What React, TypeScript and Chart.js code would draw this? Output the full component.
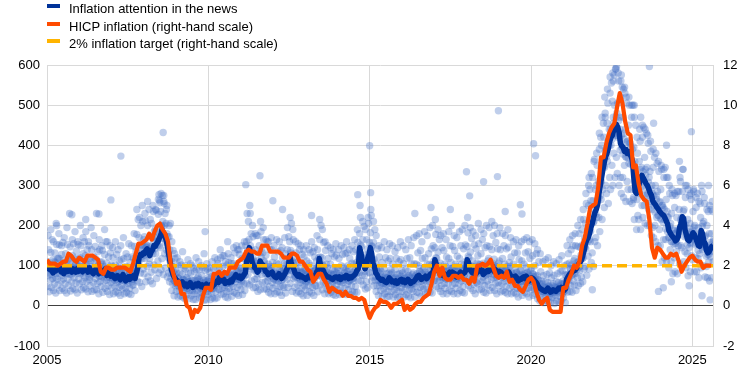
import React, { useEffect, useRef } from "react";
import { Chart, registerables } from "chart.js";

Chart.register(...registerables);

// ---------- DATA ----------
const START_YEAR = 2005;
const X_MAX = 2025.64;
const xTickYears = [2005, 2010, 2015, 2020, 2025];
const inflationTarget = 2;

// Euro area HICP inflation, monthly, Jan 2005 – Aug 2025 (right-hand scale, %)
const hicp: number[] = [
  2.3, 2.1, 2.1, 2.1, 2.0, 2.1, 2.2, 2.2, 2.6, 2.5, 2.3, 2.2,
  2.4, 2.3, 2.2, 2.5, 2.5, 2.5, 2.4, 2.3, 1.7, 1.6, 1.9, 1.9,
  1.8, 1.8, 1.9, 1.9, 1.9, 1.9, 1.8, 1.7, 2.1, 2.6, 3.1, 3.1,
  3.2, 3.3, 3.6, 3.3, 3.7, 4.0, 4.1, 3.8, 3.6, 3.2, 2.1, 1.6,
  1.1, 1.2, 0.6, 0.6, 0.0, -0.1, -0.6, -0.2, -0.3, -0.1, 0.5, 0.9,
  0.9, 0.8, 1.6, 1.6, 1.7, 1.5, 1.7, 1.6, 1.9, 1.9, 1.9, 2.2,
  2.3, 2.4, 2.7, 2.8, 2.7, 2.7, 2.6, 2.6, 3.0, 3.0, 3.0, 2.7,
  2.7, 2.7, 2.7, 2.6, 2.4, 2.4, 2.4, 2.6, 2.6, 2.5, 2.2, 2.2,
  2.0, 1.8, 1.7, 1.2, 1.4, 1.6, 1.6, 1.3, 1.1, 0.7, 0.9, 0.8,
  0.7, 0.7, 0.5, 0.7, 0.5, 0.5, 0.4, 0.4, 0.3, 0.4, 0.3, -0.2,
  -0.6, -0.3, -0.1, 0.0, 0.3, 0.2, 0.2, 0.1, -0.1, 0.1, 0.1, 0.2,
  0.3, -0.2, 0.0, -0.2, -0.1, 0.1, 0.2, 0.2, 0.4, 0.5, 0.6, 1.1,
  1.7, 2.0, 1.5, 1.9, 1.4, 1.3, 1.3, 1.5, 1.5, 1.4, 1.5, 1.3,
  1.3, 1.1, 1.4, 1.2, 2.0, 2.0, 2.1, 2.0, 2.1, 2.3, 1.9, 1.5,
  1.4, 1.5, 1.4, 1.7, 1.2, 1.3, 1.0, 1.0, 0.8, 0.7, 1.0, 1.3,
  1.4, 1.2, 0.7, 0.3, 0.1, 0.3, 0.4, -0.2, -0.3, -0.3, -0.3, -0.3,
  0.9, 0.9, 1.3, 1.6, 2.0, 1.9, 2.2, 3.0, 3.4, 4.1, 4.9, 5.0,
  5.1, 5.9, 7.4, 7.4, 8.1, 8.6, 8.9, 9.1, 9.9, 10.6, 10.1, 9.2,
  8.6, 8.5, 6.9, 7.0, 6.1, 5.5, 5.3, 5.2, 4.3, 2.9, 2.4, 2.9,
  2.8, 2.6, 2.4, 2.4, 2.6, 2.5, 2.6, 2.2, 1.7, 2.0, 2.2, 2.4,
  2.5, 2.3, 2.2, 2.2, 1.9, 2.0, 2.0, 2.0,
];

// Inflation attention in the news, smoothed, twice a month (left-hand scale)
const attentionSmooth: number[] = [
  86, 92, 95, 88, 82, 90, 87, 94, 98, 90, 85, 92, 80, 88, 92, 86, 96, 88, 84, 92, 88, 84, 93, 86,
  94, 88, 85, 92, 97, 90, 84, 95, 88, 84, 80, 88, 92, 85, 80, 86, 88, 82, 84, 92, 76, 82, 80, 74,
  78, 72, 68, 74, 75, 70, 65, 70, 78, 70, 62, 68, 72, 66, 74, 70, 76, 68, 82, 95, 120, 128, 126, 132,
  130, 138, 142, 136, 125, 135, 140, 150, 148, 155, 160, 168, 175, 190, 182, 178, 165, 150, 130, 110, 90, 80, 72, 68,
  64, 60, 56, 54, 60, 56, 50, 54, 48, 52, 58, 52, 46, 50, 54, 50, 56, 52, 48, 52, 46, 50, 54, 50,
  48, 52, 46, 50, 54, 58, 62, 58, 75, 68, 62, 66, 56, 60, 60, 58, 64, 60, 68, 72, 78, 72, 70, 74,
  68, 72, 78, 82, 110, 130, 145, 130, 110, 100, 95, 92, 84, 88, 112, 105, 102, 96, 86, 84, 78, 80, 82, 84,
  76, 72, 70, 74, 80, 76, 68, 72, 78, 84, 92, 98, 125, 110, 98, 92, 82, 78, 74, 78, 72, 74, 70, 70,
  66, 70, 74, 70, 76, 74, 68, 72, 84, 88, 118, 100, 92, 88, 80, 76, 72, 72, 70, 68, 66, 70, 72, 72,
  68, 72, 66, 70, 72, 70, 76, 74, 68, 72, 70, 74, 76, 80, 88, 92, 145, 132, 110, 105, 92, 98, 118, 128,
  145, 130, 105, 98, 82, 78, 70, 68, 64, 66, 62, 60, 58, 62, 70, 66, 60, 62, 58, 62, 56, 60, 64, 66,
  60, 64, 58, 62, 66, 62, 56, 60, 60, 64, 68, 74, 76, 72, 66, 70, 70, 74, 68, 72, 76, 80, 82, 88,
  115, 104, 90, 86, 78, 82, 76, 80, 72, 78, 78, 84, 80, 84, 76, 80, 72, 78, 76, 84, 78, 80, 82, 88,
  115, 108, 90, 86, 82, 88, 78, 82, 92, 98, 86, 90, 78, 82, 84, 88, 86, 94, 92, 98, 86, 90, 78, 82,
  86, 84, 80, 78, 74, 80, 82, 84, 76, 74, 68, 72, 74, 70, 62, 66, 66, 70, 72, 68, 74, 70, 62, 66,
  70, 68, 64, 60, 55, 48, 44, 42, 40, 38, 36, 40, 44, 40, 34, 36, 40, 38, 36, 40, 44, 42, 46, 44,
  38, 42, 66, 72, 78, 82, 84, 88, 88, 92, 98, 104, 108, 114, 125, 138, 155, 165, 170, 180, 195, 205, 220, 232,
  240, 252, 280, 300, 320, 340, 358, 372, 380, 392, 410, 420, 425, 438, 440, 452, 445, 432, 405, 398, 395, 385, 390, 380,
  385, 378, 372, 360, 318, 285, 280, 295, 305, 315, 325, 318, 312, 305, 300, 292, 282, 276, 262, 256, 252, 246, 242, 236,
  232, 228, 226, 220, 212, 205, 188, 182, 176, 172, 168, 162, 165, 172, 195, 205, 222, 218, 190, 178, 165, 162, 168, 175,
  182, 178, 168, 160, 150, 148, 188, 180, 162, 155, 138, 132, 135, 142, 148, 150,
];

// Daily readings (six per month), one row per year
const dailyAttention: number[][] = [
  [48,110,75,140,35,92, 101,64,133,46,87,165, 68,115,38,98,55,132, 108,32,81,153,67,117, 52,119,81,152,38,100, 97,62,128,44,84,158, 67,113,38,97,55,130, 108,32,81,153,67,117, 51,115,78,147,37,97, 95,60,125,43,82,155, 70,119,40,101,57,136, 108,32,81,153,67,117],
  [55,120,80,150,40,98, 96,60,130,45,85,160, 70,125,42,105,60,140, 110,35,80,150,65,118, 50,112,76,140,36,92, 92,58,122,40,80,148, 68,116,40,98,56,135, 100,30,74,140,60,108, 48,110,72,138,34,90, 98,62,128,44,86,160, 64,106,36,90,50,122, 95,28,70,132,58,102],
  [45,98,64,120,30,80, 78,48,102,35,66,128, 58,96,32,82,46,112, 84,26,62,115,50,90, 42,96,64,118,30,80, 72,45,98,34,62,122, 56,94,30,80,44,108, 88,28,66,122,52,95, 52,118,80,148,38,100, 135,85,178,62,118,215, 100,170,58,145,82,200, 152,48,118,210,92,165],
  [80,172,118,212,60,145, 152,98,200,72,132,240, 104,172,62,148,84,205, 170,55,130,235,102,185, 90,190,130,238,68,160, 172,112,228,82,150,262, 145,235,90,200,118,275, 210,78,168,255,130,230, 95,205,140,250,72,172, 130,82,172,60,112,205, 68,112,38,98,55,138, 84,25,62,118,50,92],
  [36,82,52,102,22,68, 60,38,82,25,52,102, 46,78,22,66,36,95, 64,18,48,92,38,70, 28,66,44,82,18,55, 60,38,82,25,50,100, 38,64,16,55,30,85, 64,16,48,90,38,68, 30,72,48,90,20,60, 55,34,76,22,46,95, 38,64,14,56,30,88, 62,15,48,92,36,70],
  [28,66,44,84,16,55, 52,32,74,20,45,92, 44,74,18,64,35,96, 72,20,55,105,42,80, 40,96,62,120,28,78, 70,44,98,30,62,125, 46,78,22,66,36,102, 72,20,56,108,44,80, 36,82,54,105,24,68, 76,48,105,34,66,132, 60,100,30,86,46,140, 88,26,66,128,52,96],
  [40,92,60,118,28,76, 88,55,118,38,76,150, 96,160,55,138,78,210, 165,52,125,230,98,180, 62,138,92,172,45,112, 102,66,140,46,90,175, 68,112,36,98,54,150, 132,40,100,185,78,142, 58,132,88,165,42,108, 92,60,126,42,80,160, 62,104,34,90,48,140, 98,30,74,140,58,108],
  [44,98,66,122,30,80, 78,50,106,35,68,135, 62,104,34,90,48,138, 85,26,64,120,50,92, 46,105,70,130,32,86, 104,66,140,46,90,172, 96,160,56,138,78,205, 112,36,86,165,68,122, 46,106,70,132,32,86, 82,52,110,36,70,140, 58,96,30,84,44,128, 85,25,64,122,50,92],
  [40,88,58,112,26,74, 78,50,106,35,68,132, 60,100,32,86,46,135, 85,26,64,122,50,92, 50,112,75,140,35,92, 120,76,165,52,104,200, 72,120,40,104,58,158, 95,30,72,138,56,104, 42,95,64,118,30,78, 76,48,104,34,66,130, 54,90,28,78,42,122, 88,26,66,126,52,95],
  [40,92,62,118,28,76, 74,46,100,32,64,128, 58,96,30,84,44,130, 90,28,70,132,54,100, 40,92,62,118,28,76, 78,50,106,35,68,135, 62,104,34,90,48,140, 108,34,82,158,64,118, 82,180,122,220,62,148, 120,76,165,52,104,198, 76,126,42,110,60,165, 142,45,110,205,84,158],
  [82,182,122,225,62,148, 115,72,158,50,98,190, 64,106,36,92,50,142, 85,26,64,122,50,92, 38,86,56,108,24,70, 68,42,92,30,58,120, 48,80,22,70,36,112, 82,24,62,118,48,90, 36,82,54,104,22,68, 66,40,90,28,56,118, 46,78,20,66,36,110, 80,22,60,115,46,88],
  [36,82,54,105,22,68, 66,40,90,28,56,118, 52,86,24,74,40,120, 70,20,54,104,42,78, 36,82,54,105,22,68, 76,48,104,34,66,132, 60,100,32,86,46,138, 82,24,62,118,48,90, 42,95,64,120,30,78, 76,48,104,34,66,130, 62,104,34,90,48,142, 102,32,78,150,62,112],
  [64,145,96,178,48,118, 98,62,134,44,86,165, 64,106,36,92,50,145, 95,30,72,138,56,104, 44,98,66,122,30,80, 88,55,118,38,76,150, 66,108,36,94,52,148, 95,30,72,138,56,104, 44,98,66,124,30,80, 88,55,118,38,76,150, 62,104,34,90,48,142, 102,32,78,152,62,112],
  [66,148,98,182,50,120, 98,62,134,44,86,168, 68,112,38,98,54,152, 96,30,74,142,58,106, 55,125,84,155,40,102, 96,60,130,42,84,165, 64,106,34,92,50,145, 102,32,78,150,62,112, 52,118,80,148,38,96, 104,66,140,46,90,175, 70,116,38,100,56,158, 96,30,74,142,58,106],
  [50,112,75,140,35,92, 88,55,118,38,76,150, 62,104,34,90,48,142, 98,30,76,146,60,108, 44,98,66,122,30,80, 76,48,104,34,66,132, 58,96,30,84,44,132, 78,22,60,115,46,88, 40,88,60,112,26,74, 76,48,104,34,66,132, 58,96,30,84,44,135, 78,22,60,118,46,88],
  [40,95,60,125,26,78, 72,44,100,30,62,130, 44,76,18,66,34,110, 55,12,42,85,30,62, 20,55,36,75,8,46, 42,26,60,14,36,78, 32,58,10,48,24,82, 44,8,32,70,22,50, 20,55,35,76,6,46, 42,26,60,12,36,80, 32,58,10,48,24,85, 55,12,42,88,30,62],
  [20,56,36,78,8,46, 76,48,104,34,66,130, 64,106,36,92,50,140, 102,34,78,150,62,112, 52,118,80,150,38,98, 108,70,148,50,96,180, 88,146,56,126,72,190, 152,60,120,215,92,168, 98,205,142,255,76,172, 188,124,250,92,165,290, 160,262,108,228,132,320, 262,98,210,365,160,290],
  [170,300,220,350,150,262, 310,220,390,185,275,420, 265,400,215,360,290,455, 420,245,345,480,300,390, 280,455,360,505,255,410, 440,320,530,290,400,555, 350,510,300,470,380,575, 500,320,425,590,370,480, 330,505,420,560,300,470, 440,320,520,280,395,545, 320,470,270,430,350,530, 440,260,370,505,310,410],
  [290,450,355,500,260,405, 395,290,470,255,355,500, 265,395,215,360,290,450, 325,190,265,380,225,300, 215,360,280,410,190,320, 345,250,420,220,310,445, 250,370,205,340,275,430, 345,200,280,405,240,320, 200,335,260,385,175,300, 280,195,345,170,250,370, 200,300,160,275,220,355, 285,150,225,335,190,260],
  [150,290,215,340,110,250, 245,165,320,120,215,345, 165,265,110,235,185,320, 220,95,170,280,140,205, 110,230,160,275,80,190, 180,120,245,85,155,275, 135,220,80,190,150,285, 240,105,185,310,150,220, 145,285,205,340,110,240, 200,135,270,95,175,300, 130,215,75,185,145,275, 205,85,155,265,125,190],
  [115,235,165,285,85,200, 180,120,245,85,155,280, 118,195,70,168,130,255, 220,95,170,285,140,205, 100,210,148,255,72,175, 148,98,200,70,128,235, 110,180,62,158,122,240, 180,70,138,235,110,165],
];

// Extra daily readings near the centre of the cloud, two per month
const dailyCore: number[] = [
  82, 104, 96, 78, 90, 110, 72, 98, 88, 118, 94, 76, 84, 102, 92, 80, 96, 112, 78, 94, 90, 106, 86, 98,
  100, 84, 92, 76, 104, 90, 88, 72, 84, 98, 92, 110, 80, 96, 86, 74, 92, 104, 78, 90, 70, 86, 74, 94,
  70, 86, 64, 80, 76, 62, 72, 84, 66, 78, 60, 74, 68, 82, 70, 60, 66, 80, 86, 100, 110, 140, 122, 150,
  126, 148, 150, 128, 118, 144, 136, 160, 142, 170, 152, 182, 168, 198, 176, 200, 158, 180, 120, 140, 82, 98, 64, 78,
  56, 70, 48, 62, 52, 66, 46, 58, 44, 60, 50, 64, 42, 56, 48, 62, 50, 66, 44, 58, 42, 58, 48, 62,
  44, 60, 42, 56, 50, 64, 56, 72, 66, 82, 58, 74, 52, 70, 56, 72, 58, 76, 64, 80, 68, 86, 66, 82,
  64, 80, 72, 90, 104, 130, 128, 150, 98, 118, 88, 106, 80, 96, 100, 122, 94, 112, 80, 98, 72, 88, 76, 92,
  68, 84, 64, 80, 72, 90, 64, 80, 74, 92, 86, 104, 110, 132, 88, 106, 74, 92, 70, 86, 66, 82, 64, 80,
  60, 78, 66, 84, 64, 80, 70, 88, 78, 96, 100, 122, 82, 100, 72, 88, 66, 82, 64, 80, 60, 78, 64, 82,
  62, 80, 60, 76, 64, 82, 68, 86, 62, 78, 66, 84, 70, 88, 82, 100, 130, 152, 100, 120, 86, 106, 108, 130,
  128, 150, 96, 116, 74, 90, 64, 80, 58, 74, 56, 72, 54, 70, 62, 78, 56, 72, 54, 70, 52, 68, 58, 74,
  56, 72, 54, 70, 58, 76, 52, 68, 56, 72, 62, 80, 68, 86, 62, 78, 66, 84, 62, 78, 70, 88, 78, 96,
  100, 120, 82, 100, 72, 90, 70, 88, 68, 86, 72, 90, 74, 92, 70, 88, 68, 86, 72, 90, 70, 88, 76, 96,
  102, 124, 82, 100, 76, 94, 72, 90, 86, 104, 80, 98, 72, 90, 76, 94, 80, 100, 86, 106, 78, 98, 72, 90,
  76, 94, 72, 90, 70, 88, 74, 92, 68, 84, 62, 80, 64, 82, 58, 74, 60, 78, 62, 80, 64, 82, 58, 74,
  62, 80, 58, 74, 50, 64, 40, 54, 36, 48, 34, 46, 38, 50, 32, 44, 36, 48, 34, 46, 38, 50, 40, 54,
  36, 48, 62, 78, 72, 90, 76, 94, 80, 100, 90, 110, 98, 120, 118, 142, 146, 172, 160, 188, 186, 214, 208, 240,
  228, 262, 268, 305, 310, 350, 348, 385, 372, 410, 400, 440, 415, 455, 430, 470, 425, 462, 388, 425, 378, 415, 372, 408,
  368, 404, 352, 390, 270, 310, 286, 320, 306, 340, 298, 334, 290, 326, 274, 308, 256, 290, 240, 274, 234, 266, 226, 258,
  218, 250, 208, 240, 192, 222, 170, 198, 160, 188, 154, 180, 160, 186, 186, 214, 204, 236, 172, 200, 152, 178, 158, 184,
  168, 196, 152, 178, 138, 162, 170, 198, 146, 172, 124, 146, 128, 152, 136, 160,
];

// Upper-tail daily readings, one per month
const dailyHighs: number[] = [
  175, 190, 160, 205, 180, 150, 170, 195, 230, 165, 185, 160,
  200, 170, 185, 160, 195, 175, 230, 165, 150, 190, 160, 150,
  145, 160, 140, 150, 170, 130, 155, 150, 180, 240, 220, 250,
  230, 260, 215, 250, 240, 265, 280, 275, 240, 200, 160, 130,
  120, 110, 135, 100, 115, 105, 95, 120, 110, 100, 130, 105,
  95, 110, 120, 115, 140, 125, 110, 130, 120, 145, 150, 140,
  150, 160, 230, 250, 200, 180, 175, 210, 195, 165, 160, 170,
  150, 165, 160, 145, 170, 195, 220, 190, 160, 155, 150, 140,
  150, 140, 160, 145, 175, 215, 190, 160, 150, 145, 140, 155,
  140, 150, 145, 160, 140, 150, 165, 190, 250, 210, 190, 220,
  240, 210, 175, 150, 145, 160, 140, 155, 150, 135, 145, 160,
  150, 140, 165, 150, 170, 175, 180, 160, 185, 175, 195, 200,
  215, 190, 175, 180, 165, 185, 200, 175, 170, 185, 190, 200,
  220, 195, 185, 175, 205, 190, 180, 200, 195, 210, 200, 180,
  195, 180, 175, 190, 170, 160, 165, 150, 160, 165, 170, 160,
  165, 155, 140, 130, 110, 115, 120, 100, 110, 105, 115, 125,
  100, 150, 165, 175, 180, 200, 215, 240, 280, 300, 330, 360,
  380, 430, 470, 520, 540, 570, 580, 590, 580, 560, 540, 520,
  520, 500, 470, 420, 440, 450, 440, 425, 410, 390, 380, 360,
  350, 340, 320, 300, 290, 280, 285, 320, 340, 300, 290, 280,
  290, 270, 260, 300, 270, 240, 250, 260,
];

// Isolated daily readings [year, value]
const dailyOutliers: [number, number][] = [
  [2005.3, 200], [2005.77, 227], [2006.2, 215], [2006.61, 229], [2006.98, 264],
  [2007.29, 373], [2008.47, 277], [2008.5, 257], [2008.6, 432], [2008.62, 260],
  [2009.9, 185], [2010.6, 160], [2011.16, 302], [2011.6, 324], [2012.0, 262],
  [2012.3, 240], [2013.2, 225], [2014.63, 277], [2015.0, 399], [2015.03, 282],
  [2016.4, 230], [2016.9, 245], [2017.5, 240], [2018.0, 334], [2018.1, 274],
  [2018.53, 309], [2018.96, 322], [2018.99, 486], [2019.2, 235], [2019.67, 252],
  [2019.72, 229], [2020.08, 404], [2020.14, 374], [2021.8, 320], [2021.9, 40],
  [2022.3, 470], [2022.55, 560], [2022.65, 596], [2022.8, 575], [2022.9, 545],
  [2023.2, 500], [2023.4, 470], [2023.67, 596], [2023.8, 455], [2023.95, 36],
  [2024.1, 45], [2024.2, 400], [2024.35, 60], [2024.6, 360], [2024.9, 50],
  [2024.97, 434], [2025.3, 25], [2025.5, 300], [2025.55, 15],
];

// ---------- COLOURS / STYLE ----------
const DARK_BLUE = "#003299";
const ORANGE = "#FF4B00";
const YELLOW = "#FFB400";
const DOT = "rgba(68, 110, 196, 0.34)";
const GRID = "#d9d9d9";
const FONT = "'Liberation Sans', Arial, sans-serif";

const monthX = (m: number, frac: number) => START_YEAR + (m + frac) / 12;

export default function App() {
  const canvasRef = useRef<HTMLCanvasElement | null>(null);

  useEffect(() => {
    document.body.style.margin = "0";
    const canvas = canvasRef.current;
    if (!canvas) return;

    const dailyPoints: { x: number; y: number }[] = [];
    dailyAttention.forEach((row, yi) => {
      row.forEach((v, j) => {
        const m = yi * 12 + Math.floor(j / 6);
        const k = j % 6;
        dailyPoints.push({ x: monthX(m, (k + 0.5) / 6), y: v });
      });
    });
    dailyCore.forEach((v, i) => dailyPoints.push({ x: START_YEAR + (i + 0.3) / 24, y: v }));
    dailyHighs.forEach((v, i) => dailyPoints.push({ x: monthX(i, 0.42), y: v }));
    dailyOutliers.forEach(([x, y]) => dailyPoints.push({ x, y }));

    const smoothPoints = attentionSmooth.map((v, i) => ({ x: START_YEAR + (i + 0.5) / 24, y: v }));
    const hicpPoints = hicp.map((v, i) => ({ x: monthX(i, 0), y: v }));
    const targetPoints = [
      { x: START_YEAR, y: inflationTarget },
      { x: X_MAX, y: inflationTarget },
    ];

    const tickFont = { family: FONT, size: 13 };

    const chart = new Chart(canvas, {
      type: "scatter",
      data: {
        datasets: [
          {
            label: "daily",
            data: dailyPoints,
            yAxisID: "y",
            pointRadius: 3.7,
            pointBackgroundColor: DOT,
            pointBorderWidth: 0,
            showLine: false,
            order: 4,
          },
          {
            label: "Inflation attention in the news",
            data: smoothPoints,
            yAxisID: "y",
            showLine: true,
            borderColor: DARK_BLUE,
            borderWidth: 5.5,
            pointRadius: 0,
            tension: 0,
            borderJoinStyle: "round",
            order: 3,
          },
          {
            label: "2% inflation target (right-hand scale)",
            data: targetPoints,
            yAxisID: "y2",
            showLine: true,
            borderColor: YELLOW,
            borderWidth: 3.5,
            borderDash: [10, 5],
            pointRadius: 0,
            order: 2,
          },
          {
            label: "HICP inflation (right-hand scale)",
            data: hicpPoints,
            yAxisID: "y2",
            showLine: true,
            borderColor: ORANGE,
            borderWidth: 4.2,
            pointRadius: 0,
            tension: 0,
            borderJoinStyle: "round",
            order: 1,
          },
        ],
      },
      options: {
        animation: false,
        responsive: false,
        maintainAspectRatio: false,
        events: [],
        layout: { padding: { top: 65, left: 0, right: 0, bottom: 0 } },
        plugins: { legend: { display: false }, tooltip: { enabled: false } },
        scales: {
          x: {
            type: "linear",
            min: START_YEAR,
            max: X_MAX,
            afterBuildTicks: (s: any) => {
              s.ticks = xTickYears.map((v) => ({ value: v }));
            },
            afterFit: (s: any) => {
              s.height = 28;
            },
            ticks: {
              callback: (v: any) => String(v),
              font: tickFont,
              color: "#000",
              padding: 7,
              maxRotation: 0,
              autoSkip: false,
            },
            grid: { color: GRID, lineWidth: 1, drawTicks: false },
            border: { display: false },
          },
          y: {
            position: "left",
            min: -100,
            max: 600,
            afterFit: (s: any) => {
              s.width = 47;
            },
            ticks: { stepSize: 100, font: tickFont, color: "#000", padding: 7 },
            grid: {
              color: (ctx: any) => (ctx.tick && ctx.tick.value === 0 ? "#404040" : GRID),
              lineWidth: 1,
              drawTicks: false,
            },
            border: { display: true, color: GRID },
          },
          y2: {
            position: "right",
            min: -2,
            max: 12,
            afterFit: (s: any) => {
              s.width = 30;
            },
            ticks: { stepSize: 2, font: tickFont, color: "#000", padding: 10 },
            grid: { display: false, drawTicks: false },
            border: { display: true, color: GRID },
          },
        },
      },
    } as any);

    return () => chart.destroy();
  }, []);

  const legendItems = [
    { label: "Inflation attention in the news", color: DARK_BLUE },
    { label: "HICP inflation (right-hand scale)", color: ORANGE },
    { label: "2% inflation target (right-hand scale)", color: YELLOW },
  ];

  return (
    <div style={{ position: "relative", width: 743, height: 374, background: "#fff" }}>
      <canvas ref={canvasRef} width={743} height={374} style={{ display: "block", width: 743, height: 374 }} />
      {legendItems.map((it, i) => (
        <div
          key={it.label}
          style={{
            position: "absolute",
            left: 0,
            top: i * 17.5,
            height: 17,
            width: 400,
            fontFamily: FONT,
            fontSize: 13,
            lineHeight: "17px",
            color: "#000",
            whiteSpace: "nowrap",
          }}
        >
          <span
            style={{
              position: "absolute",
              left: 47,
              top: 4,
              width: 13,
              height: 4,
              background: it.color,
            }}
          />
          <span style={{ position: "absolute", left: 69, top: 0 }}>{it.label}</span>
        </div>
      ))}
    </div>
  );
}
